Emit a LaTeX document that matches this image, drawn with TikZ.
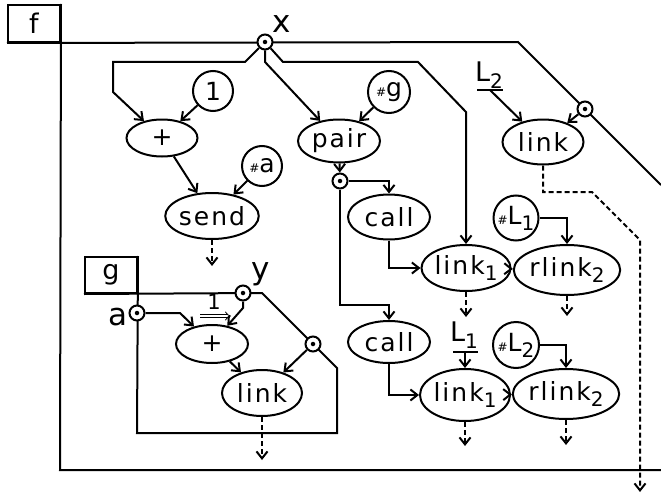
\documentclass[tikz,border=0pt]{standalone}
\usepackage{fontspec}
\setmainfont{DejaVu Sans}[LetterSpace=8]
\usetikzlibrary{shapes.geometric,arrows.meta}
\newcommand\ix[1]{\raisebox{-0.45ex}{\fontsize{20}{20}\selectfont #1}}
\newcommand\hsh{{\fontsize{12}{12}\selectfont\#}}
\begin{document}
\begin{tikzpicture}[x=1pt,y=-1pt,line width=2pt,
  >={Straight Barb[length=7pt,width=11pt]},
  op/.style={draw,ellipse,inner sep=0pt,minimum width=82pt,minimum height=44pt,
    font=\fontsize{25}{26}\selectfont},
  lit/.style={draw,circle,inner sep=0pt,minimum size=40pt,
    font=\fontsize{25}{26}\selectfont},
  port/.style={draw,circle,fill=white,inner sep=0pt,minimum size=15pt,
    label={[circle,fill,inner sep=0pt,minimum size=4.5pt]center:}},
  tag/.style={inner sep=1pt,font=\fontsize{31}{31}\selectfont},
  boxtag/.style={draw,inner sep=0pt,font=\fontsize{27}{27}\selectfont},
  flow/.style={->},
  ctl/.style={->,dash pattern=on 5pt off 3pt}]
  \useasboundingbox (0,0) rectangle (661,495);
  % Frame f
  \node[boxtag,minimum width=52pt,minimum height=37pt] (fbox) at (34,23.5) {f};
  \draw (fbox.south west) -- (518,42) -- (661,185);
  \draw (fbox.north east) -- (60,470) -- (661,470);
  \node[port] (px) at (265,42) {};
  \node[tag] (lx) at (282,24) {x};
  \node[port] (pf) at (585,109) {};
  % Left part of f
  \node[lit] (one) at (213,91) {1};
  \node[op,minimum width=71pt,minimum height=37pt] (plus) at (162,138) {+};
  \node[lit] (hasha) at (262,166) {\hsh a};
  \node[op,minimum width=81pt,minimum height=46pt] (send) at (212,216) {send};
  \draw[flow] (px) -- (245,62) -- (113,62) -- (113,92) -- (plus);
  \draw[flow] (one) -- (plus);
  \draw[flow] (plus) -- (send);
  \draw[flow] (hasha) -- (send);
  \draw[ctl] (send.south) -- ++(0,26);
  % Middle part of f
  \node[lit,minimum size=42pt] (hashg) at (389,92) {\hsh g};
  \node[op,minimum height=43pt] (pair) at (339,141) {pair};
  \node[port] (pp) at (340,181) {};
  \node[op,minimum height=45pt] (call) at (389,217) {call};
  \node[op,minimum height=42pt] (callb) at (389,342) {call};
  \draw[flow] (px) -- (265,62) -- (pair);
  \draw[flow] (hashg) -- (pair);
  \draw[flow] (pair) -- (pp);
  \draw[flow] (pp) -| (call);
  \draw[flow] (pp) -- (340,305) -| (callb);
  % Upper link row
  \node[op,minimum width=86pt,minimum height=46pt] (linka) at (466,268) {link\ix{1}};
  \node[op,minimum width=92pt,minimum height=50pt] (rlinka) at (567,270) {rlink\ix{2}};
  \node[lit,minimum size=45pt] (hashLa) at (516,218) {\hsh L\ix{1}};
  \draw[flow] (px) -- (283,62) -- (418,62) -- (466,112) -- (linka);
  \draw[flow] (call) |- (linka);
  \draw[flow] (linka) -- (rlinka);
  \draw[flow] (hashLa) -| (rlinka);
  \draw[ctl] (linka.south) -- ++(0,25);
  \draw[ctl] (rlinka.south) -- ++(0,20);
  % Lower link row
  \node[op,minimum width=90pt,minimum height=52pt] (linkb) at (465,395) {link\ix{1}};
  \node[op,minimum width=90pt,minimum height=50pt] (rlinkb) at (566,394) {rlink\ix{2}};
  \node[lit,minimum size=46pt] (hashLb) at (516,345) {\hsh L\ix{2}};
  \node[tag,font=\fontsize{27}{27}\selectfont] (La) at (464,335) {L\ix{1}};
  \draw (453,352) -- (478,352);
  \draw[flow] (callb) |- (linkb);
  \draw[flow] (linkb) -- (rlinkb);
  \draw[flow] (hashLb) -| (rlinkb);
  \draw[flow] (465,352) -- (linkb);
  \draw[ctl] (linkb.south) -- ++(0,24);
  \draw[ctl] (rlinkb.south) -- ++(0,25);
  % Top right link
  \node[op,minimum width=81pt,minimum height=45pt] (link) at (543,142) {link};
  \node[tag,font=\fontsize{27}{27}\selectfont] (Lb) at (489,75) {L\ix{2}};
  \draw (477,90) -- (503,90);
  \draw[flow] (490,90) -- (link);
  \draw[flow] (pf) -- (link);
  \draw[ctl] (link.south) |- (592,192) -- (640,240) -- (640,492);
  % Frame g
  \node[boxtag,minimum width=52pt,minimum height=36pt] (gbox) at (111,275) {g};
  \draw (gbox.south west) -- (262,293) -- (337,368) -- (337,433) -- (137,433) -- (gbox.north east);
  \node[port] (py) at (243,293) {};
  \node[tag] (ly) at (261,274) {y};
  \node[port] (pa) at (137,313) {};
  \node[tag] (la) at (118,317) {a};
  \node[port] (pg) at (313,344) {};
  \node[op,minimum width=72pt,minimum height=38pt] (gplus) at (212,344) {+};
  \node[op,minimum width=80pt,minimum height=46pt] (glink) at (262,393) {link};
  \node[inner sep=0pt,font=\fontsize{21}{21}\selectfont] (k) at (214,302) {1};
  \draw[line width=0.8pt,double distance=2.2pt,-{Implies}] (200,316) -- (231,316);
  \draw[flow] (pa) -- (180,313) -- (gplus);
  \draw[flow] (py) -- (243,308) -- (gplus.50);
  \draw[flow] (gplus) -- (glink);
  \draw[flow] (pg) -- (glink);
  \draw[ctl] (glink.south) -- ++(0,43);
\end{tikzpicture}
\end{document}
